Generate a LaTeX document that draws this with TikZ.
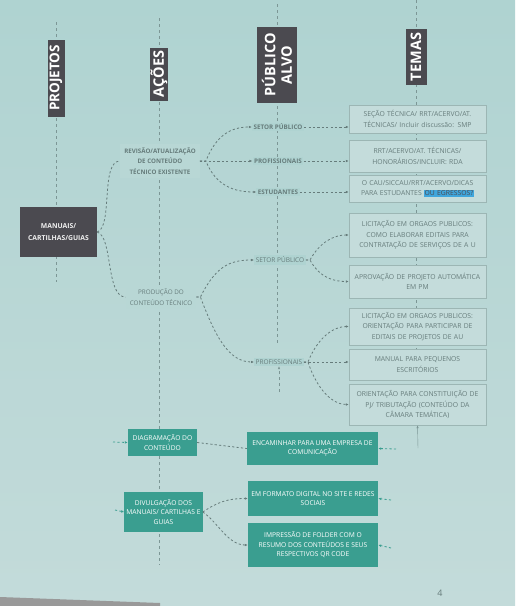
\documentclass[tikz,border=0pt]{standalone}
\usepackage{fontspec}
\setmainfont{Open Sans}
\usetikzlibrary{arrows.meta,positioning}
\setlength{\fboxsep}{0.6pt}

\definecolor{fundo}{HTML}{AFD3D1}
\definecolor{fundoclaro}{HTML}{C3DBDA}
\definecolor{escuro}{HTML}{4B4A50}
\definecolor{cinza}{HTML}{667C7B}
\definecolor{caixa}{HTML}{C4DCDB}
\definecolor{borda}{HTML}{9CB6B4}
\definecolor{verde}{HTML}{3A9E90}
\definecolor{realce}{HTML}{40A6DC}

\begin{document}
\begin{tikzpicture}[x=1pt,y=-1pt,
    titulo/.style={fill=escuro,text=white,rotate=90,align=center,inner sep=1pt,
        font=\bfseries\fontsize{14.5}{16.5}\selectfont},
    projeto/.style={fill=escuro,text=white!88!gray,align=center,
        minimum width=77pt,minimum height=50pt,font=\bfseries\fontsize{6.8}{12}\selectfont},
    acao/.style={fill=fundoclaro!45!fundo,text=cinza,align=center,inner sep=4pt,
        font=\fontsize{6.3}{10.5}\selectfont},
    alvo/.style={fill=fundo,text=cinza,inner sep=1.5pt,font=\fontsize{6.5}{7}\selectfont},
    tema/.style={draw=borda,fill=caixa,text=cinza,align=center,text width=134pt,
        minimum width=137pt,inner sep=1.5pt,font=\fontsize{6.8}{10.5}\selectfont},
    verdebox/.style={fill=verde,text=white,align=center,inner sep=2pt,
        font=\fontsize{6.7}{9.5}\selectfont},
    guia/.style={draw=cinza!70!fundo,thin,dash pattern=on 3pt off 3pt},
    ligacao/.style={draw=cinza,line width=0.8pt,dash pattern=on 2.2pt off 2.2pt,
        -{Latex[length=3pt,width=2.6pt]}},
    ligverde/.style={ligacao,draw=verde}
]
    % fundo do slide
    \useasboundingbox (0,0) rectangle (515,606);
    \shade[top color=fundo,bottom color=fundoclaro] (0,0) rectangle (515,606);
    \fill[black!40] (0,597) -- (160,603) -- (160,606) -- (0,606) -- cycle;

    % linhas guia das colunas
    \draw[guia] (56,22) -- (56,282);
    \draw[guia] (159,18) -- (159,565);
    \draw[guia] (277,4) -- (277,345);
    \draw[guia] (416,0) -- (416,384);

    % cabeçalhos
    \node[titulo,minimum width=77pt,minimum height=17pt,font=\bfseries\fontsize{13.5}{15}\selectfont]
        (projetos) at (56,78) {PROJETOS};
    \node[titulo,minimum width=53pt,minimum height=18pt] (acoes) at (159,74) {AÇÕES};
    \node[titulo,minimum width=76pt,minimum height=40pt] (publico) at (277,65) {PÚBLICO\\ALVO};
    \node[titulo,minimum width=56pt,minimum height=21pt] (temas) at (416,57) {TEMAS};

    % projeto
    \node[projeto] (manuais) at (58.5,232) {MANUAIS/\\CARTILHAS/GUIAS};

    % ações
    \node[acao,font=\bfseries\fontsize{6.2}{10.5}\selectfont] (revisao) at (160,161)
        {REVISÃO/ATUALIZAÇÃO\\DE CONTEÚDO\\TÉCNICO EXISTENTE};
    \node[acao] (producao) at (161,297) {PRODUÇÃO DO\\CONTEÚDO TÉCNICO};

    % público alvo
    \node[alvo,font=\bfseries\fontsize{6.3}{7}\selectfont] (sp1) at (278,127) {SETOR PÚBLICO};
    \node[alvo,font=\bfseries\fontsize{6.3}{7}\selectfont] (pr1) at (278,161) {PROFISSIONAIS};
    \node[alvo,font=\bfseries\fontsize{6.3}{7}\selectfont] (es1) at (278,192) {ESTUDANTES};
    \node[alvo] (sp2) at (280,260) {SETOR PÚBLICO};
    \node[alvo] (pr2) at (279,362) {PROFISSIONAIS};

    % temas
    \node[tema,minimum height=28pt] (t1) at (417.5,119)
        {SEÇÃO TÉCNICA/ RRT/ACERVO/AT.\\TÉCNICAS/ Incluir discussão: SMP};
    \node[tema,minimum height=32pt] (t2) at (417.5,156)
        {RRT/ACERVO/AT. TÉCNICAS/\\HONORÁRIOS/INCLUIR: RDA};
    \node[tema,minimum height=27pt] (t3) at (417.5,188.5)
        {O CAU/SICCAU/RRT/ACERVO/DICAS\\PARA ESTUDANTES \colorbox{realce}{\textcolor{escuro}{OU EGRESSOS?}}};
    \node[tema,minimum height=44pt] (t4) at (417.5,235)
        {LICITAÇÃO EM ORGAOS PUBLICOS:\\COMO ELABORAR EDITAIS PARA\\CONTRATAÇÃO DE SERVIÇOS DE A U};
    \node[tema,minimum height=33pt] (t5) at (417.5,281.5)
        {APROVAÇÃO DE PROJETO AUTOMÁTICA\\EM PM};
    \node[tema,minimum height=37pt] (t6) at (417.5,326.5)
        {LICITAÇÃO EM ORGAOS PUBLICOS:\\ORIENTAÇÃO PARA PARTICIPAR DE\\EDITAIS DE PROJETOS DE AU};
    \node[tema,minimum height=31pt] (t7) at (417.5,364.5)
        {MANUAL PARA PEQUENOS\\ESCRITÓRIOS};
    \node[tema,minimum height=41pt] (t8) at (417.5,404.5)
        {ORIENTAÇÃO PARA CONSTITUIÇÃO DE\\PJ/ TRIBUTAÇÃO (CONTEÚDO DA\\CÂMARA TEMÁTICA)};

    % caixas verdes
    \node[verdebox,minimum width=69pt,minimum height=27pt] (diag) at (162.5,442.5)
        {DIAGRAMAÇÃO DO\\CONTEÚDO};
    \node[verdebox,minimum width=131pt,minimum height=33pt] (enc) at (312.5,448.5)
        {ENCAMINHAR PARA UMA EMPRESA DE\\COMUNICAÇÃO};
    \node[verdebox,minimum width=75pt,minimum height=40pt] (div) at (163.5,512)
        {DIVULGAÇÃO DOS\\MANUAIS/ CARTILHAS E\\GUIAS};
    \node[verdebox,minimum width=130pt,minimum height=35pt] (emf) at (313,498.5)
        {EM FORMATO DIGITAL NO SITE E REDES\\SOCIAIS};
    \node[verdebox,minimum width=130pt,minimum height=44pt] (imp) at (313,545)
        {IMPRESSÃO DE FOLDER COM O\\RESUMO DOS CONTEÚDOS E SEUS\\RESPECTIVOS QR CODE};

    % setas das linhas guia
    \draw[guia,-{Latex[length=3pt]}] (279,392) -- (pr2.south);
    \draw[cinza!70!fundo,-{Latex[length=3pt]}] (418,448) -- (t8.south);

    % projeto -> ações
    \draw[ligacao,-] (manuais.east) .. controls +(16,-5) and +(-20,0) .. (revisao.west);
    \draw[ligacao,-] (manuais.east) .. controls +(16,5) and +(-20,0) .. (producao.west);

    % revisão -> público
    \draw[ligacao] (revisao.east) -- ++(6,0) .. controls +(10,-25) and +(-22,0) .. (sp1.west);
    \draw[ligacao] (revisao.east) -- (pr1.west);
    \draw[ligacao] (revisao.east) -- ++(6,0) .. controls +(10,25) and +(-22,0) .. (es1.west);

    % produção -> público
    \draw[ligacao] (producao.east) -- ++(4,0) .. controls +(15,-30) and +(-25,0) .. (sp2.west);
    \draw[ligacao] (producao.east) -- ++(4,0) .. controls +(15,40) and +(-25,0) .. (pr2.west);

    % público -> temas
    \draw[ligacao] (sp1.east) -- (sp1 -| t1.west);
    \draw[ligacao] (pr1.east) -- (pr1 -| t2.west);
    \draw[ligacao] (es1.east) -- (es1 -| t3.west);
    \draw[ligacao] (sp2.east) -- ++(4,0) .. controls +(10,-18) and +(-15,0) .. (t4.west);
    \draw[ligacao] (sp2.east) -- ++(4,0) .. controls +(10,18) and +(-15,0) .. (t5.west);
    \draw[ligacao] (pr2.east) -- ++(4,0) .. controls +(10,-25) and +(-15,0) .. (t6.west);
    \draw[ligacao] (pr2.east) -- (pr2 -| t7.west);
    \draw[ligacao] (pr2.east) -- ++(4,0) .. controls +(10,30) and +(-15,0) .. (t8.west);

    % ligações das caixas verdes
    \coordinate (entdiag) at (113,442);
    \coordinate (saienc) at (396,449);
    \coordinate (entdiv) at (115,510);
    \coordinate (saiemf) at (391,500);
    \coordinate (saiimp) at (391,548);
    \draw[ligverde] (entdiag) -- (diag.west);
    \draw[ligacao,-] (diag.east) -- (enc.west);
    \draw[ligverde] (saienc) -- (enc.east);
    \draw[ligverde] (entdiv) -- (div.west);
    \draw[ligacao] (div.east) .. controls +(15,-10) and +(-20,0) .. (emf.west);
    \draw[ligacao] (div.east) .. controls +(15,10) and +(-20,0) .. (imp.west);
    \draw[ligverde] (saiemf) -- (emf.east);
    \draw[ligverde] (saiimp) -- (imp.east);

    % número da página
    \node[text=cinza,font=\fontsize{9}{9}\selectfont] (pagina) at (440,593) {4};
\end{tikzpicture}
\end{document}
